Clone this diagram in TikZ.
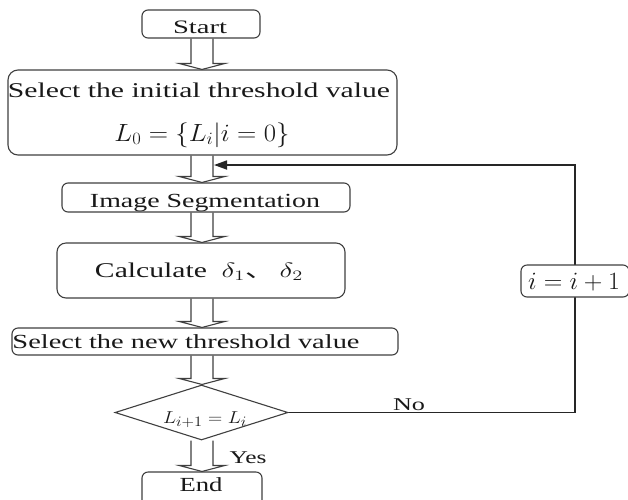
\documentclass[tikz,border=0pt]{standalone}
\usepackage{fontspec}
\setmainfont{Liberation Serif}
\newfontfamily\cjk{Noto Sans CJK SC}
\usetikzlibrary{arrows.meta,shapes.geometric,calc}
\newcommand{\fitw}[2]{\resizebox{#1}{\height}{#2}}
\newcommand{\harrow}[2]{%
  \draw[hollow] ($(ax |- #1.south)+(-11,0)$) -- ($(ax |- #2.north)+(-11,-6)$) -- ($(ax |- #2.north)+(-23,-6)$) -- (ax |- #2.north) -- ($(ax |- #2.north)+(23,-6)$) -- ($(ax |- #2.north)+(11,-6)$) -- ($(ax |- #1.south)+(11,0)$);}
\begin{document}
\begin{tikzpicture}[x=1pt,y=-1pt,
  box/.style={draw=black!75, line width=1.1pt, rounded corners=6pt, inner sep=0pt},
  lbl/.style={inner sep=0pt, anchor=base, text=black!90},
  hollow/.style={draw=black!75, line width=1.1pt},
  fb/.style={draw=black!85, line width=1.7pt}]
\useasboundingbox (0,0) rectangle (628,499);
\clip (0,0) rectangle (628,499);
\fill[white] (0,0) rectangle (628,499);
\coordinate (ax) at (202,0);

% boxes
\node[box, minimum width=118pt, minimum height=28pt] (start) at (201,24) {};
\node[box, rounded corners=10pt, minimum width=389pt, minimum height=85pt] (selinit) at (202.5,112.5) {};
\node[box, minimum width=288pt, minimum height=29pt] (imgseg) at (206,197.5) {};
\node[box, rounded corners=9pt, minimum width=288pt, minimum height=55pt] (calc) at (201,270.5) {};
\node[box, minimum width=386pt, minimum height=27pt] (selnew) at (205,341.5) {};
\node[diamond, draw=black!75, line width=1.1pt, inner sep=0pt, minimum width=173pt, minimum height=55pt] (dia) at (201.5,412.5) {};
\node[box, minimum width=120pt, minimum height=36pt] (endb) at (202,490) {};

% hollow arrows
\harrow{start}{selinit}
\harrow{selinit}{imgseg}
\harrow{imgseg}{calc}
\harrow{calc}{selnew}
\harrow{selnew}{dia}
\harrow{dia}{endb}

% feedback loop
\coordinate (c1) at (575,412.5);
\coordinate (c2) at (575,165);
\coordinate (c3) at (214,165);
\draw[fb, -{Triangle[length=13pt,width=9pt]}] (dia.east) -- (c1) -- (c2) -- (c3);
\node[box, fill=white, minimum width=108pt, minimum height=32pt] (inc) at (575,281) {};

% texts
\node[lbl, font=\fontsize{19}{20}\selectfont] (tstart) at (200,33) {\fitw{54pt}{Start}};
\node[lbl, font=\fontsize{21}{22}\selectfont] (tsel1) at (199,97) {\fitw{382pt}{Select the initial threshold value}};
\node[lbl, font=\fontsize{25}{26}\selectfont] (tform) at (202,141) {\fitw{175pt}{$L_0=\{L_i|i=0\}$}};
\node[lbl, font=\fontsize{20}{22}\selectfont] (tseg) at (205,207) {\fitw{230pt}{Image Segmentation}};
\node[lbl, font=\fontsize{21}{22}\selectfont] (tcalc) at (199,277) {\fitw{208pt}{Calculate\ \ $\delta_1${\cjk 、}\,$\delta_2$}};
\node[lbl, font=\fontsize{20}{22}\selectfont] (tselnew) at (186,348) {\fitw{347pt}{Select the new threshold value}};
\node[lbl, font=\fontsize{19}{20}\selectfont] (tdia) at (205,423) {\fitw{84pt}{$L_{i+1}=L_i$}};
\node[lbl, font=\fontsize{18}{20}\selectfont] (tyes) at (248,463) {\fitw{37pt}{Yes}};
\node[lbl, font=\fontsize{18}{20}\selectfont] (tno) at (409,410) {\fitw{32pt}{No}};
\node[lbl, font=\fontsize{20}{22}\selectfont] (tend) at (201,491) {\fitw{43pt}{End}};
\node[lbl, font=\fontsize{23}{24}\selectfont] (tinc) at (574,289) {\fitw{92pt}{$i=i+1$}};
\end{tikzpicture}
\end{document}
